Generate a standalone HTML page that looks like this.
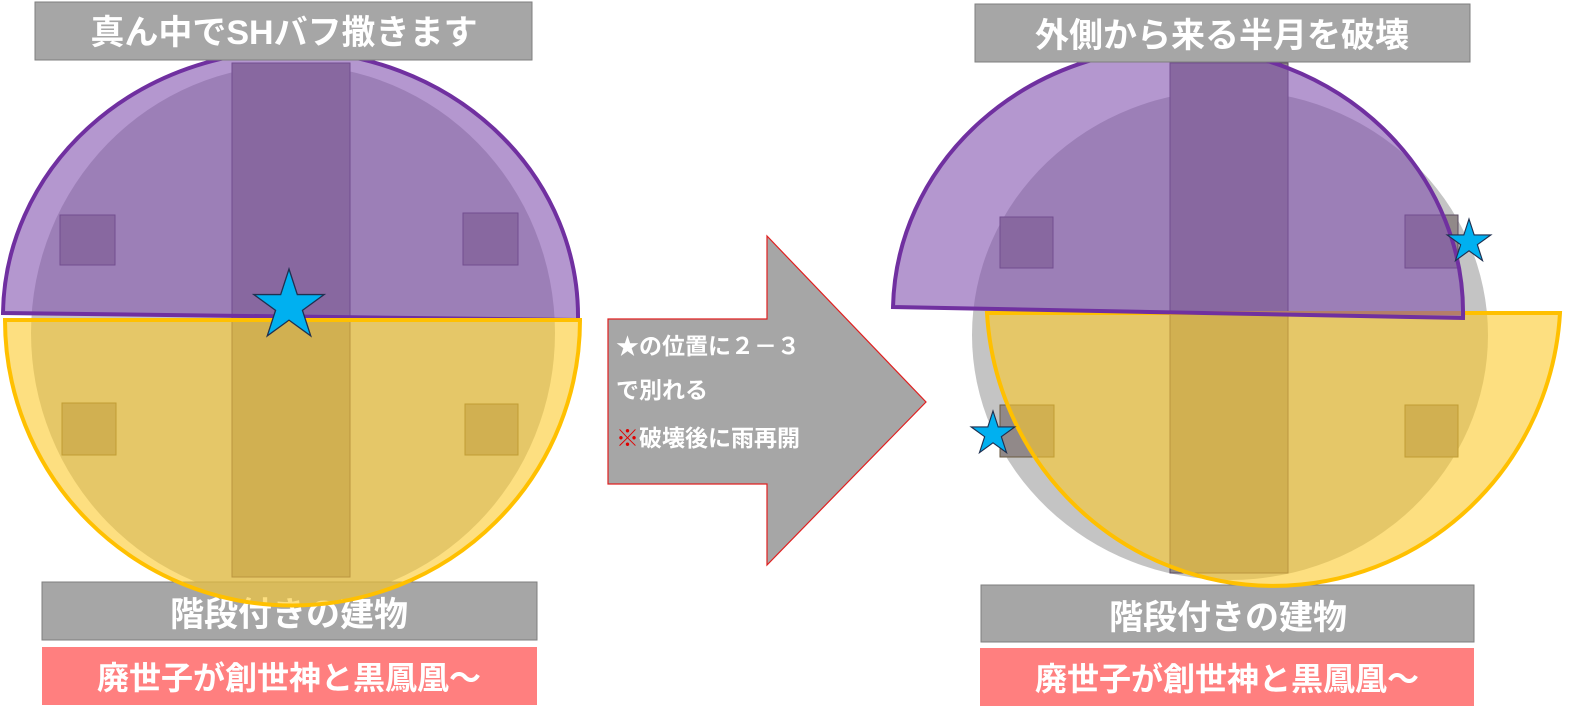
<!DOCTYPE html>
<html><head><meta charset="utf-8"><style>
html,body{margin:0;padding:0;background:#fff;}
svg{display:block;}
text{font-family:"Liberation Sans","Noto Sans CJK JP",sans-serif;font-weight:bold;fill:#fff;}
</style></head><body>
<svg width="1577" height="714" viewBox="0 0 1577 714" xmlns="http://www.w3.org/2000/svg">
<defs>
<polygon id="st" points="0,-1 0.225,-0.309 0.951,-0.309 0.363,0.118 0.588,0.809 0,0.382 -0.588,0.809 -0.363,0.118 -0.951,-0.309 -0.225,-0.309"/>
</defs>
<!-- LEFT -->
<ellipse cx="293" cy="333" rx="262" ry="268" fill="#c4c4c4"/>
<rect x="232" y="63" width="118" height="514" fill="#918989" stroke="#5a4a60" stroke-width="1"/>
<rect x="60" y="215" width="55" height="50" fill="#918989" stroke="#5a4a60" stroke-width="1"/>
<rect x="463" y="213" width="55" height="52" fill="#918989" stroke="#5a4a60" stroke-width="1"/>
<rect x="62" y="403" width="54" height="52" fill="#918989" stroke="#6a5a40" stroke-width="1"/>
<rect x="465" y="404" width="53" height="51" fill="#918989" stroke="#6a5a40" stroke-width="1"/>
<rect x="42" y="582" width="495" height="58" fill="#a6a6a6" stroke="#7f7f7f"/>
<text x="289" y="626" font-size="34" text-anchor="middle">階段付きの建物</text>
<path d="M3 313 A287 265 0 0 1 578 320 Z" fill="rgb(130,82,175)" fill-opacity="0.6" stroke="#7030a0" stroke-width="4"/>
<path d="M5 320 A287 285 0 0 0 580 320 Z" fill="rgb(252,202,43)" fill-opacity="0.6" stroke="#ffc000" stroke-width="4"/>
<use href="#st" transform="translate(289,306) scale(37)" fill="#00b0f0" stroke="#1f3050" stroke-width="0.035"/>
<rect x="35" y="2" width="497" height="58" fill="#a6a6a6" stroke="#7f7f7f"/>
<text x="284" y="44" font-size="34" text-anchor="middle">真ん中でSHバフ撒きます</text>
<rect x="42" y="647" width="495" height="58" fill="#ff7f7f"/>
<text x="289" y="689" font-size="32" text-anchor="middle">廃世子が創世神と黒鳳凰～</text>

<!-- ARROW -->
<path d="M608 319 H767 V236 L926 402 L767 565 V484 H608 Z" fill="#a6a6a6" stroke="#e02020" stroke-width="1.2"/>
<text x="616" y="354" font-size="23">★の位置に２－３</text>
<text x="616" y="398" font-size="23">で別れる</text>
<text x="616" y="446" font-size="23"><tspan style="fill:#e00000">※</tspan>破壊後に雨再開</text>

<!-- RIGHT -->
<ellipse cx="1230" cy="335" rx="258" ry="245" fill="#c4c4c4"/>
<rect x="1170" y="63" width="118" height="510" fill="#918989" stroke="#5a4a60" stroke-width="1"/>
<rect x="1000" y="217" width="53" height="51" fill="#918989" stroke="#5a4a60" stroke-width="1"/>
<rect x="1405" y="215" width="53" height="53" fill="#918989" stroke="#5a4a60" stroke-width="1"/>
<rect x="1000" y="405" width="54" height="52" fill="#918989" stroke="#6a5a40" stroke-width="1"/>
<rect x="1405" y="405" width="53" height="52" fill="#918989" stroke="#6a5a40" stroke-width="1"/>
<rect x="981" y="585" width="493" height="57" fill="#a6a6a6" stroke="#7f7f7f"/>
<text x="1228" y="629" font-size="34" text-anchor="middle">階段付きの建物</text>
<path d="M987 313 A287 290 0 0 0 1560 313 Z" fill="rgb(252,202,43)" fill-opacity="0.6" stroke="#ffc000" stroke-width="4"/>
<path d="M893 307 A285 265 0 0 1 1463 318 Z" fill="rgb(130,82,175)" fill-opacity="0.6" stroke="#7030a0" stroke-width="4"/>
<use href="#st" transform="translate(1469,242) scale(23)" fill="#00b0f0" stroke="#1f3050" stroke-width="0.05"/>
<use href="#st" transform="translate(993,434) scale(23)" fill="#00b0f0" stroke="#1f3050" stroke-width="0.05"/>
<rect x="975" y="4" width="495" height="58" fill="#a6a6a6" stroke="#7f7f7f"/>
<text x="1222" y="47" font-size="34" text-anchor="middle">外側から来る半月を破壊</text>
<rect x="980" y="648" width="494" height="58" fill="#ff7f7f"/>
<text x="1227" y="690" font-size="32" text-anchor="middle">廃世子が創世神と黒鳳凰～</text>
</svg>
</body></html>
